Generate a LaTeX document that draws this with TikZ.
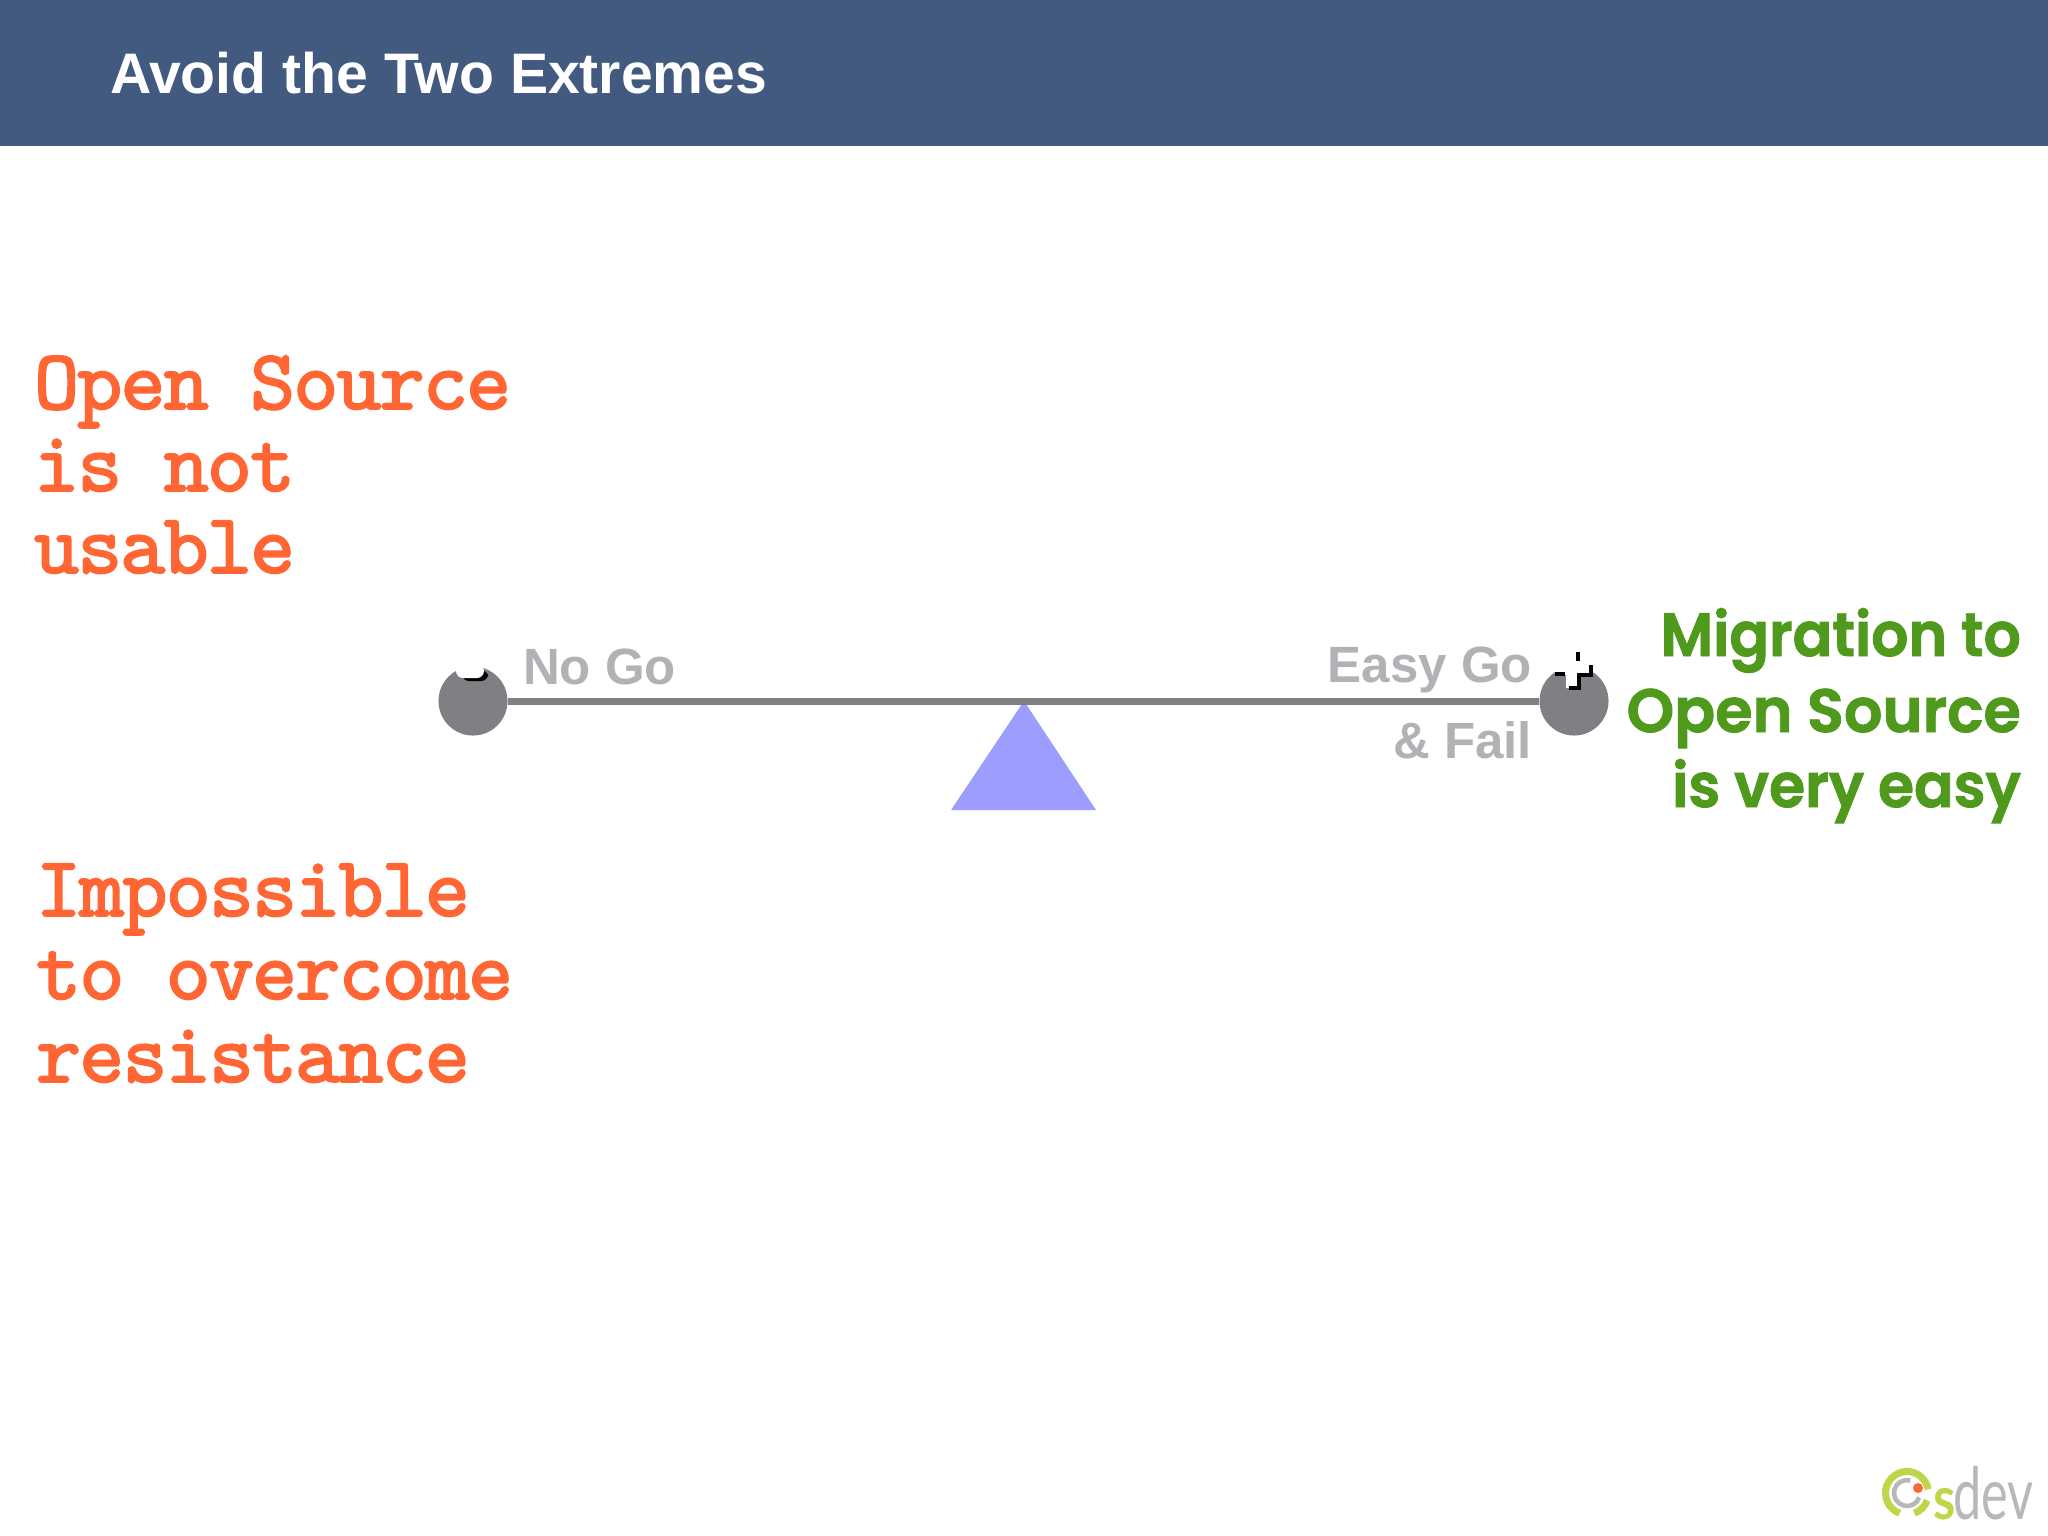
\documentclass[tikz,border=0pt]{standalone}
\usepackage{fontspec}
\setmainfont{Liberation Sans}
\newfontfamily\monofont[FakeBold=4.5]{Latin Modern Mono Light}
\newfontfamily\geofont[FakeStretch=0.955,FakeBold=1.5]{Poppins SemiBold}
\newfontfamily\geowidefont[FakeStretch=0.99,FakeBold=1.5]{Poppins SemiBold}
\newfontfamily\logofont[FakeStretch=0.7]{Lato}
\newfontfamily\logoboldfont[FakeStretch=0.85]{Lato Bold}
\definecolor{headblue}{HTML}{425980}
\definecolor{beamgray}{HTML}{807F83}
\definecolor{labelgray}{HTML}{B3B1B5}
\definecolor{hotorange}{HTML}{FF6633}
\definecolor{leafgreen}{HTML}{4F9A1C}
\definecolor{pivotblue}{HTML}{9D9DFF}
\definecolor{logogreen}{HTML}{BFD64B}
\definecolor{logogray}{HTML}{B8B8BA}
\tikzset{
	redtext/.style={anchor=base west,inner sep=0pt,text=hotorange,font=\monofont\fontsize{23.4pt}{23.4pt}\selectfont},
	greentext/.style={anchor=base east,inner sep=0pt,text=leafgreen,font=\geofont\fontsize{17.4pt}{17.4pt}\selectfont},
	graytext/.style={inner sep=0pt,text=labelgray,font=\bfseries\fontsize{14.5pt}{14.5pt}\selectfont},
	weight/.style={circle,fill=beamgray,inner sep=0pt,outer sep=0pt,minimum size=0.69cm},
}
\begin{document}
\begin{tikzpicture}[x=0.01cm,y=-0.01cm,line width=0.6pt]
		\useasboundingbox (0,0) rectangle (2048,1535);
		\fill[white] (0,0) rectangle (2048,1535);
		\fill[headblue] (0,0) rectangle (2048,146);
		\node[anchor=base west,inner sep=0pt,text=white,font=\bfseries\fontsize{16.25pt}{16.25pt}\selectfont] (title) at (109,93) {Avoid the Two Extremes};
		% left column
		\node[redtext] (usable1) at (34,408) {Open Source};
		\node[redtext] (usable2) at (34,490) {is not};
		\node[redtext] (usable3) at (34,572) {usable};
		\node[redtext] (resist1) at (36,915) {Impossible};
		\node[redtext] (resist2) at (36,998) {to overcome};
		\node[redtext] (resist3) at (36,1081) {resistance};
		% balance
		\fill[pivotblue] (1024,701)--(1096,810)--(951,810)--cycle;
		\node[weight] (nogo) at (473,701) {};
		\node[weight] (easygo) at (1574,701) {};
		\draw[beamgray,line width=2pt] (nogo)--(easygo);
		% minus sign
		\fill[black,rounded corners=2pt] (462,670) rectangle (488,681);
		\fill[white,rounded corners=2pt] (456,664) rectangle (484,678);
		% plus sign
		\fill[white] (1566,650)--(1578,650)--(1578,663)--(1592,663)--(1592,675)--(1578,675)--(1578,688)--(1566,688)--(1566,675)--(1555,675)--(1555,663)--(1566,663)--cycle;
		\draw[black,line width=1.1pt] (1578,652)--(1578,661) (1555,674)--(1565,674) (1591,665)--(1591,675)--(1579,675)--(1579,688)--(1569,688);
		\node[graytext,anchor=base west] (nogotext) at (522,684) {No Go};
		\node[graytext,anchor=base east] (easytext) at (1533,682) {Easy Go};
		\node[graytext,anchor=base east] (failtext) at (1533,758) {\& Fail};
		% right column
		\node[greentext] (easy1) at (2022,656) {Migration to};
		\node[greentext,font=\geowidefont\fontsize{17.4pt}{17.4pt}\selectfont] (easy2) at (2022,732) {Open Source};
		\node[greentext] (easy3) at (2022,807) {is very easy};
		% logo
		\begin{scope}[shift={(1907,1493)},x=0.01cm,y=0.01cm]
		\draw[logogreen,line width=2pt] (250:21.5) arc (250:10:21.5);
		\draw[logogreen,line width=2pt] (-20:21.5) arc (-20:-70:21.5);
		\draw[logogray,line width=1.3pt] (75:13) arc (75:340:13);
		\fill[hotorange] (11,5) circle (5);
		\end{scope}
		\node[anchor=base west,inner sep=0pt,text=logogreen,font=\logoboldfont\fontsize{17pt}{17pt}\selectfont] (logos) at (1932,1519) {s};
		\node[anchor=base west,inner sep=0pt,text=logogray,font=\logofont\fontsize{20.5pt}{20.5pt}\selectfont] (logodev) at (1952,1519) {dev};
		\end{tikzpicture}
\end{document}
